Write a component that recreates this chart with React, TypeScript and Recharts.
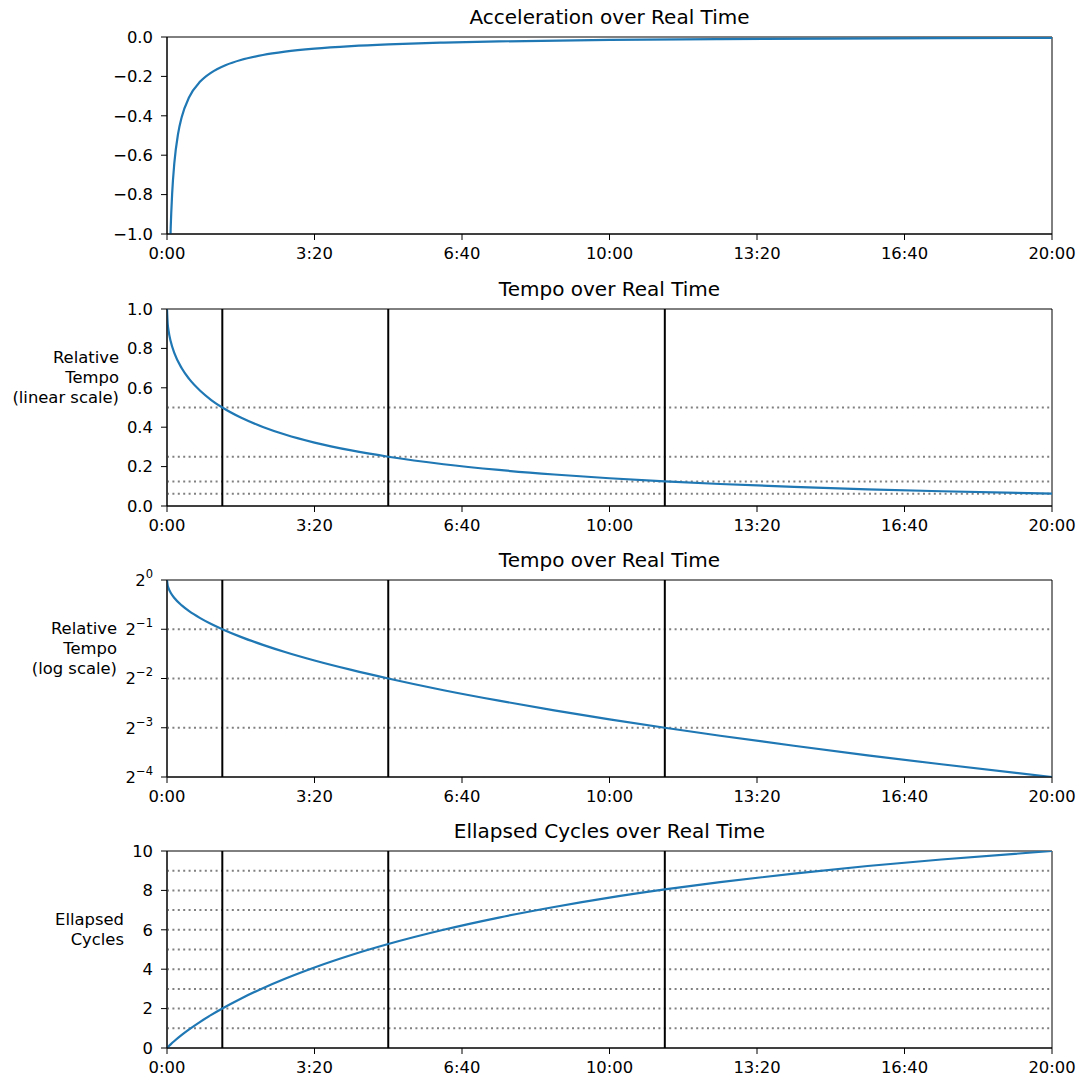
import React from 'react'
import { LineChart, Line, XAxis, YAxis, ReferenceLine, ReferenceArea } from 'recharts'

// real time in seconds
const ACCEL_TIMES = [3, 4, 5, 7, 10, 15, 20, 30, 45, 60, 80, 100, 130, 160, 200, 250, 300, 375, 450, 600, 750, 900, 1050, 1200]
const ACCEL_VALUES = [
  -1.306, -1.107, -0.971, -0.794, -0.638, -0.492, -0.406, -0.306, -0.2264, -0.1804, -0.142, -0.1167,
  -0.0915, -0.0746, -0.0592, -0.0464, -0.0375, -0.0285, -0.0224, -0.0149, -0.0106, -0.00785, -0.006, -0.0047,
]

const TEMPO_TIMES = [0, 1, 2, 5, 10, 20, 30, 45, 60, 75, 100, 130, 160, 200, 250, 300, 375, 450, 525, 600, 675, 750, 850, 950, 1050, 1200]
const TEMPO_VALUES = [
  1, 0.923, 0.893, 0.836, 0.776, 0.699, 0.645, 0.585, 0.538, 0.5, 0.449, 0.4015, 0.363, 0.322, 0.282,
  0.25, 0.212, 0.183, 0.1598, 0.1408, 0.125, 0.1117, 0.097, 0.0848, 0.0748, 0.0625,
]
const CYCLE_VALUES = [
  0, 0.0394, 0.0771, 0.186, 0.3545, 0.663, 0.9436, 1.3294, 1.6817, 2.0076, 2.5037, 3.0376, 3.5173, 4.0903,
  4.7228, 5.2789, 6.0029, 6.6219, 7.1592, 7.6324, 8.0483, 8.4203, 8.8559, 9.2373, 9.5694, 10,
]

const MARK_TIMES = [75, 300, 675]
const TEMPO_LEVELS = [0.5, 0.25, 0.125, 0.0625]
const CYCLE_LEVELS = [1, 2, 3, 4, 5, 6, 7, 8, 9]

const TIME_TICKS = [0, 200, 400, 600, 800, 1000, 1200]
const ACCEL_TICKS = [-1, -0.8, -0.6, -0.4, -0.2, 0]
const LINEAR_TICKS = [0, 0.2, 0.4, 0.6, 0.8, 1]
const LOG_TICKS = [0.0625, 0.125, 0.25, 0.5, 1]
const CYCLE_TICKS = [0, 2, 4, 6, 8, 10]

const FONT = '"DejaVu Sans", sans-serif'
const BLUE = '#1f77b4'
const CHART_W = 1083
const PLOT_LEFT = 167
const PLOT_RIGHT = 1052
const PLOT_H = 197
const M_TOP = 20
const X_AXIS_H = 34
const Y_AXIS_W = 61
const TICK_FS = 16.4

const fmtTime = (s: number) => `${Math.floor(s / 60)}:${String(s % 60).padStart(2, '0')}`
const fmtDec = (v: number) => v.toFixed(1).replace('-', '\u2212')
const fmtInt = (v: number) => String(v)

const toRows = (times: number[], values: number[]) => times.map((t, i) => ({ t, v: values[i] }))

function PowTick(props: any) {
  const { x, y, payload } = props
  const k = Math.round(Math.log2(payload.value))
  return (
    <text x={x} y={y} dy="0.355em" textAnchor="end" fontSize={TICK_FS} fill="#000" fontFamily={FONT}>
      2
      <tspan dy={-8} fontSize={11.5}>
        {k === 0 ? '0' : '\u2212' + -k}
      </tspan>
    </text>
  )
}

interface PanelProps {
  top: number
  title: string
  rows: { t: number; v: number }[]
  domain: [number, number]
  ticks: number[]
  fmt?: (v: number) => string
  log?: boolean
  label?: string[]
  labelRight?: number
  levels?: number[]
  marks?: boolean
}

function Panel({ top, title, rows, domain, ticks, fmt, log, label, labelRight, levels, marks }: PanelProps) {
  const lineH = TICK_FS * 1.2
  return (
    <>
      <div
        style={{
          position: 'absolute',
          left: PLOT_LEFT,
          width: PLOT_RIGHT - PLOT_LEFT,
          top: top - 31,
          lineHeight: '22px',
          fontSize: 20,
          textAlign: 'center',
          fontFamily: FONT,
          color: '#000',
        }}
      >
        {title}
      </div>
      {label && (
        // label block sits with its bottom on the plot's vertical middle
        <div
          style={{
            position: 'absolute',
            left: 0,
            width: labelRight,
            top: top + PLOT_H / 2 - label.length * lineH,
            lineHeight: `${lineH}px`,
            fontSize: TICK_FS,
            textAlign: 'right',
            fontFamily: FONT,
            color: '#000',
          }}
        >
          {label.map((l) => (
            <div key={l}>{l}</div>
          ))}
        </div>
      )}
      <div style={{ position: 'absolute', left: 0, top: top - M_TOP }}>
        <LineChart
          width={CHART_W}
          height={M_TOP + PLOT_H + X_AXIS_H}
          data={rows}
          margin={{ top: M_TOP, right: CHART_W - PLOT_RIGHT, bottom: 0, left: PLOT_LEFT - Y_AXIS_W }}
        >
          <XAxis
            dataKey="t"
            type="number"
            domain={[0, 1200]}
            ticks={TIME_TICKS}
            tickFormatter={fmtTime}
            height={X_AXIS_H}
            tickSize={6}
            tickMargin={7}
            axisLine={{ stroke: '#000', strokeWidth: 1 }}
            tickLine={{ stroke: '#000', strokeWidth: 1 }}
            tick={{ fontSize: TICK_FS, fill: '#000', fontFamily: FONT }}
            allowDataOverflow
          />
          <YAxis
            type="number"
            scale={log ? 'log' : 'linear'}
            domain={domain}
            ticks={ticks}
            width={Y_AXIS_W}
            tickSize={6}
            tickMargin={8}
            allowDataOverflow
            interval={0}
            axisLine={{ stroke: '#000', strokeWidth: 1 }}
            tickLine={{ stroke: '#000', strokeWidth: 1 }}
            tickFormatter={fmt}
            tick={log ? <PowTick /> : { fontSize: TICK_FS, fill: '#000', fontFamily: FONT }}
          />
          {levels &&
            levels.map((lv) => (
              <ReferenceLine key={'h' + lv} y={lv} stroke="#808080" strokeWidth={2} strokeDasharray="2 3.4" />
            ))}
          {marks &&
            MARK_TIMES.map((m) => <ReferenceLine key={'v' + m} x={m} stroke="#000" strokeWidth={2} />)}
          <ReferenceArea
            x1={0}
            x2={1200}
            y1={domain[0]}
            y2={domain[1]}
            fill="none"
            fillOpacity={0}
            stroke="#000"
            strokeWidth={1}
          />
          <Line
            dataKey="v"
            type="monotone"
            stroke={BLUE}
            strokeWidth={2.2}
            dot={false}
            activeDot={false}
            isAnimationActive={false}
          />
        </LineChart>
      </div>
    </>
  )
}

export default function App() {
  return (
    <div style={{ position: 'absolute', left: 0, top: 0, width: 1083, height: 1080, background: '#fff' }}>
      <Panel
        top={37}
        title="Acceleration over Real Time"
        rows={toRows(ACCEL_TIMES, ACCEL_VALUES)}
        domain={[-1, 0]}
        ticks={ACCEL_TICKS}
        fmt={fmtDec}
      />
      <Panel
        top={309}
        title="Tempo over Real Time"
        rows={toRows(TEMPO_TIMES, TEMPO_VALUES)}
        domain={[0, 1]}
        ticks={LINEAR_TICKS}
        fmt={fmtDec}
        label={['Relative', 'Tempo', '(linear scale)']}
        labelRight={119}
        levels={TEMPO_LEVELS}
        marks
      />
      <Panel
        top={580}
        title="Tempo over Real Time"
        rows={toRows(TEMPO_TIMES, TEMPO_VALUES)}
        domain={[0.0625, 1]}
        ticks={LOG_TICKS}
        log
        label={['Relative', 'Tempo', '(log scale)']}
        labelRight={117}
        levels={TEMPO_LEVELS}
        marks
      />
      <Panel
        top={851}
        title="Ellapsed Cycles over Real Time"
        rows={toRows(TEMPO_TIMES, CYCLE_VALUES)}
        domain={[0, 10]}
        ticks={CYCLE_TICKS}
        fmt={fmtInt}
        label={['Ellapsed', 'Cycles']}
        labelRight={124}
        levels={CYCLE_LEVELS}
        marks
      />
    </div>
  )
}
